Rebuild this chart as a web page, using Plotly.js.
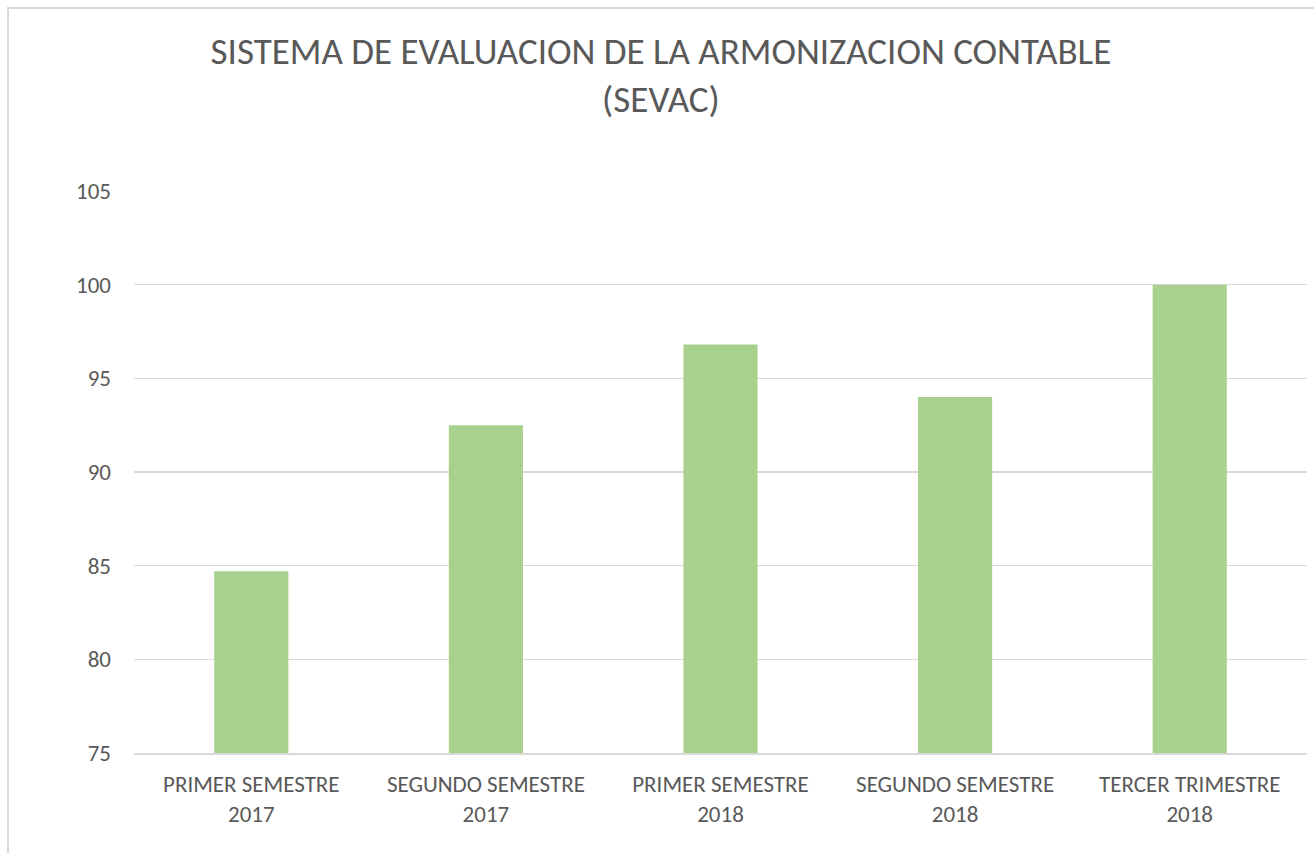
<!DOCTYPE html>
<html>
<head>
<meta charset="utf-8">
<script src="https://cdn.plot.ly/plotly-3.0.1.min.js"></script>
<style>
html,body{margin:0;padding:0;background:#fff;}
#chart{width:1314px;height:853px;position:absolute;left:0;top:0;}
#frame{position:absolute;left:7px;top:7px;width:1400px;height:900px;border-left:2px solid #D9D9D9;border-top:2px solid #D9D9D9;pointer-events:none;}
</style>
</head>
<body>
<div id="chart"></div>
<div id="frame"></div>
<script>
const categories = [
  "PRIMER SEMESTRE<br>2017",
  "SEGUNDO SEMESTRE<br>2017",
  "PRIMER SEMESTRE<br>2018",
  "SEGUNDO SEMESTRE<br>2018",
  "TERCER TRIMESTRE<br>2018"
];
const values = [84.7, 92.5, 96.8, 94.0, 100];
const yTicks = [75, 80, 85, 90, 95, 100, 105];
const titleText = "SISTEMA DE EVALUACION DE LA ARMONIZACION CONTABLE<br>(SEVAC)";

const FONT = "Carlito, Calibri, Lato, sans-serif";
const TXT = "#595959";

const data = [{
  type: "bar",
  x: categories,
  y: values,
  marker: {color: "#A9D18E"},
  hoverinfo: "x+y"
}];

const layout = {
  width: 1314,
  height: 853,
  paper_bgcolor: "#ffffff",
  plot_bgcolor: "#ffffff",
  margin: {l: 134, r: 7, t: 191, b: 100, pad: 0},
  bargap: 0.684,
  showlegend: false,
  font: {family: FONT, color: TXT},
  title: {
    text: titleText,
    font: {family: FONT, size: 37, color: TXT},
    xref: "container", x: 0.503, xanchor: "center",
    yref: "container", y: 1 - 64/853, yanchor: "middle"
  },
  xaxis: {
    type: "category",
    showgrid: false,
    showline: true,
    linecolor: "#D9D9D9",
    linewidth: 1.5,
    ticks: "",
    tickfont: {family: FONT, size: 23, color: TXT},
    ticklabelstandoff: 10,
    zeroline: false,
    fixedrange: true
  },
  yaxis: {
    range: [75, 105],
    tickvals: yTicks,
    ticktext: yTicks.map(String),
    showgrid: true,
    gridcolor: "#D9D9D9",
    gridwidth: 1.5,
    showline: false,
    zeroline: false,
    ticks: "",
    tickfont: {family: FONT, size: 23, color: TXT},
    ticklabelstandoff: 22,
    fixedrange: true
  }
};

Plotly.newPlot("chart", data, layout, {displayModeBar: false, staticPlot: true});
</script>
</body>
</html>
